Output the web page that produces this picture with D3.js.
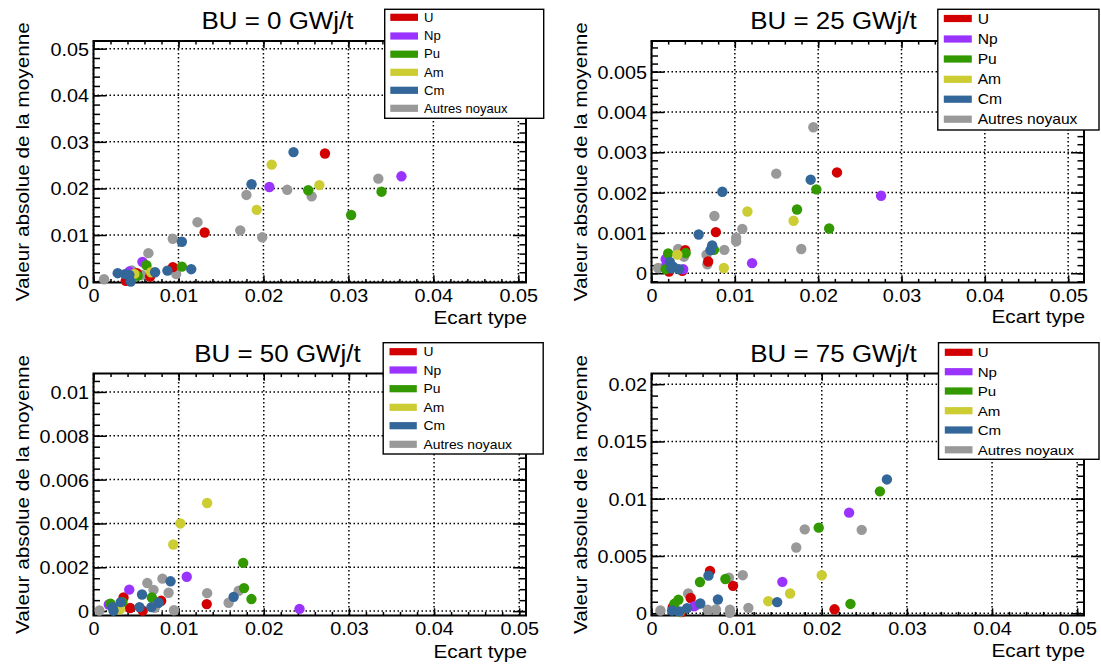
<!DOCTYPE html>
<html><head><meta charset="utf-8">
<script src="https://cdn.jsdelivr.net/npm/d3@7"></script>
<style>
html,body{margin:0;padding:0;background:#fff;}
svg{display:block;font-family:"Liberation Sans",Arial,Helvetica,sans-serif;}
</style></head>
<body>
<svg id="c" width="1101" height="666"></svg>
<script>
// ---------- data ----------
const categories = ["U","Np","Pu","Am","Cm","Autres noyaux"];
const catColors  = ["#d20000","#9b33ff","#339900","#cccc33","#336699","#999999"];
const titles = ["BU = 0 GWj/t","BU = 25 GWj/t","BU = 50 GWj/t","BU = 75 GWj/t"];
const xLabel = "Ecart type";
const yLabel = "Valeur absolue de la moyenne";

const xTickValues = [0,0.01,0.02,0.03,0.04,0.05];
const xTickLabels = ["0","0.01","0.02","0.03","0.04","0.05"];
const yTickValues0  = [0,0.01,0.02,0.03,0.04,0.05];
const yTickLabels0  = ["0","0.01","0.02","0.03","0.04","0.05"];
const yTickValues25 = [0,0.001,0.002,0.003,0.004,0.005];
const yTickLabels25 = ["0","0.001","0.002","0.003","0.004","0.005"];
const yTickValues50 = [0,0.002,0.004,0.006,0.008,0.01];
const yTickLabels50 = ["0","0.002","0.004","0.006","0.008","0.01"];
const yTickValues75 = [0,0.005,0.01,0.015,0.02];
const yTickLabels75 = ["0","0.005","0.01","0.015","0.02"];

// BU = 0
const bu0_U  = [[0.02724,0.0275],[0.01308,0.01053],[0.00934,0.0031],[0.00666,0.00107],[0.0051,0.0018],[0.0038,0.00015]];
const bu0_Np = [[0.03624,0.0226],[0.0207,0.0203],[0.00576,0.00423],[0.00422,0.00215]];
const bu0_Pu = [[0.02527,0.0196],[0.0339,0.0193],[0.03032,0.0143],[0.00623,0.0035],[0.0104,0.0032],[0.00521,0.00122]];
const bu0_Am = [[0.02097,0.0251],[0.02658,0.0207],[0.01921,0.0154],[0.00678,0.002],[0.00481,0.00165]];
const bu0_Cm = [[0.02354,0.0278],[0.0186,0.0209],[0.0104,0.00855],[0.0115,0.00266],[0.0087,0.00236],[0.00725,0.002],[0.00285,0.0018],[0.00371,0.00159],[0.00422,0.00144],[0.00438,0.0]];
const bu0_Au = [[0.03352,0.0221],[0.0228,0.0197],[0.02568,0.0183],[0.018,0.0186],[0.01224,0.01275],[0.01727,0.011],[0.01986,0.0095],[0.00933,0.0092],[0.00646,0.0061],[0.00973,0.0016],[0.00568,0.00144],[0.0045,0.0024],[0.00124,0.0005]];
// BU = 25
const bu25_U  = [[0.02226,0.0025],[0.00772,0.00102],[0.0068,0.00029],[0.00405,0.00057],[0.0021,0.00004],[0.0037,0.00006]];
const bu25_Np = [[0.02755,0.00192],[0.01207,0.00025],[0.0017,0.00035],[0.0018,0.00022],[0.0038,0.0001]];
const bu25_Pu = [[0.01978,0.00208],[0.01746,0.00158],[0.02132,0.00111],[0.0075,0.00058],[0.002,0.00049],[0.0041,0.0005],[0.0017,0.0001]];
const bu25_Am = [[0.01151,0.00153],[0.01705,0.0013],[0.00868,0.00013],[0.0031,0.00046]];
const bu25_Cm = [[0.0191,0.00232],[0.0085,0.00202],[0.00566,0.00096],[0.00728,0.00069],[0.00708,0.00057],[0.0022,0.00028],[0.0026,0.00016],[0.0024,0.00012],[0.0033,0.0001]];
const bu25_Au = [[0.01942,0.00362],[0.01497,0.00247],[0.00755,0.00142],[0.0109,0.0011],[0.01016,0.00088],[0.01016,0.00079],[0.01797,0.0006],[0.00874,0.00058],[0.0066,0.00046],[0.0067,0.00022],[0.0008,0.00013],[0.0032,0.0006],[0.0039,0.00041]];
// BU = 50
const bu50_U  = [[0.0133,0.00032],[0.00353,0.00062],[0.00795,0.00047],[0.0043,0.00014],[0.00578,0.00002]];
const bu50_Np = [[0.01095,0.00157],[0.0042,0.00098],[0.0242,0.0001],[0.0018,0.0003]];
const bu50_Pu = [[0.01758,0.0022],[0.01768,0.00105],[0.01855,0.00055],[0.00685,0.00062],[0.002,0.00034],[0.0034,0.00041]];
const bu50_Am = [[0.01335,0.00493],[0.0102,0.004],[0.00937,0.00304],[0.0031,0.00008]];
const bu50_Cm = [[0.00905,0.00136],[0.0057,0.00076],[0.01646,0.00065],[0.00765,0.00038],[0.0068,0.00018],[0.0054,0.00018],[0.00224,0.00018],[0.00235,0.00002],[0.0032,0.00041]];
const bu50_Au = [[0.0081,0.00148],[0.00632,0.00128],[0.00705,0.00097],[0.00882,0.00084],[0.01335,0.00082],[0.01705,0.00093],[0.01587,0.00038],[0.0072,0.00015],[0.00945,0.00004],[0.0007,0.00003]];
// BU = 75
const bu75_U  = [[0.00687,0.00369],[0.00958,0.00239],[0.0046,0.00133],[0.0215,0.00034],[0.0025,0.00053],[0.0035,0.0001]];
const bu75_Np = [[0.02321,0.00878],[0.01537,0.00274],[0.005,0.0006]];
const bu75_Pu = [[0.02683,0.01064],[0.01964,0.00747],[0.00868,0.00299],[0.00569,0.00272],[0.02337,0.00081],[0.00316,0.00117],[0.00269,0.00082]];
const bu75_Am = [[0.02,0.00331],[0.01628,0.00172],[0.01372,0.00105],[0.0033,0.0001]];
const bu75_Cm = [[0.02765,0.01168],[0.00669,0.00328],[0.0078,0.0012],[0.01476,0.00097],[0.00573,0.00085],[0.00242,0.00024],[0.00328,0.00015],[0.00418,0.00044]];
const bu75_Au = [[0.018,0.00732],[0.02469,0.00728],[0.017,0.00574],[0.01072,0.00332],[0.0091,0.0031],[0.00431,0.00172],[0.01138,0.00047],[0.0066,0.0003],[0.00757,0.00032],[0.00921,0.0003],[0.0092,0.00003],[0.00105,0.00024],[0.00523,0.00068]];

// ---------- layout ----------
const panels = [
  {title:titles[0], L:93.5, R:526, T:41, B:282.5, xmax:0.0509, ymin:-0.0002, ymax:0.05165,
   yv:yTickValues0, yl:yTickLabels0, yMinor:0.002, titleX:277.5, titleY:28.5, xtY:323.5, ytX:28.5,
   series:[bu0_U,bu0_Np,bu0_Pu,bu0_Am,bu0_Cm,bu0_Au],
   leg:{x0:384.7,x1:543.7,y0:9.3,y1:118.3,sw0:390.3,sw1:418,tx:424,rows:[17.3,36,54.2,72.3,90.3,108.3],fs:11.9}},
  {title:titles[1], L:651.5, R:1084, T:41, B:282.5, xmax:0.0519, ymin:-0.00023, ymax:0.00576,
   yv:yTickValues25, yl:yTickLabels25, yMinor:0.0002, titleX:833.5, titleY:28.5, xtY:322.5, ytX:586.5,
   series:[bu25_U,bu25_Np,bu25_Pu,bu25_Am,bu25_Cm,bu25_Au],
   leg:{x0:937.8,x1:1099,y0:9.3,y1:130,sw0:943.8,sw1:971.8,tx:977.7,rows:[18.5,39,59,79.3,99.2,119.2],fs:14.2}},
  {title:titles[2], L:93.5, R:526, T:373.5, B:615.5, xmax:0.0508, ymin:-0.0002, ymax:0.01084,
   yv:yTickValues50, yl:yTickLabels50, yMinor:0.0005, titleX:277.5, titleY:362.3, xtY:657.5, ytX:28.5,
   series:[bu50_U,bu50_Np,bu50_Pu,bu50_Am,bu50_Cm,bu50_Au],
   leg:{x0:383.2,x1:543.2,y0:342.7,y1:454,sw0:389.5,sw1:416.8,tx:423.5,rows:[351.7,370,388.7,407.3,425.7,444.3],fs:12.6}},
  {title:titles[3], L:651.5, R:1084, T:373.5, B:615.5, xmax:0.0508, ymin:-0.0002, ymax:0.02093,
   yv:yTickValues75, yl:yTickLabels75, yMinor:0.001, titleX:833.5, titleY:362.3, xtY:657, ytX:586.5,
   series:[bu75_U,bu75_Np,bu75_Pu,bu75_Am,bu75_Cm,bu75_Au],
   leg:{x0:938.5,x1:1099,y0:342.7,y1:459.3,sw0:944.8,sw1:972.5,tx:977.7,rows:[352.3,371.7,391,410.7,430,449.8],fs:13.7}}
];

const svg = d3.select("#c");
const SX = 1.1; // horizontal stretch of glyphs

function addText(g, x, y, s, size, sx, anchor, rot) {
  return g.append("text")
    .attr("transform", `translate(${x},${y})` + (rot ? ` rotate(${rot})` : "") + ` scale(${sx},1)`)
    .attr("text-anchor", anchor)
    .style("font-size", size + "px")
    .attr("fill", "#000")
    .text(s);
}

function minorTicks(lo, hi, step) {
  const out = [];
  const n0 = Math.ceil(lo / step - 1e-9), n1 = Math.floor(hi / step + 1e-9);
  for (let i = n0; i <= n1; i++) out.push(+(i * step).toFixed(8));
  return out;
}

function styleAxis(g) {
  g.select(".domain").remove();
  g.selectAll(".tick line").attr("stroke", "#000").attr("stroke-width", 1.5);
}

panels.forEach(p => {
  const g = svg.append("g");
  const x = d3.scaleLinear().domain([0, p.xmax]).range([p.L, p.R]);
  const y = d3.scaleLinear().domain([p.ymin, p.ymax]).range([p.B, p.T]);

  // grid
  const grid = g.append("g").attr("stroke", "#000").attr("stroke-width", 1.5).attr("stroke-dasharray", "1.5,2.5");
  xTickValues.forEach(v => grid.append("line").attr("x1", x(v)).attr("x2", x(v)).attr("y1", p.B).attr("y2", p.T));
  p.yv.forEach(v => grid.append("line").attr("y1", y(v)).attr("y2", y(v)).attr("x1", p.L).attr("x2", p.R));

  const xMinorVals = minorTicks(0, p.xmax, 0.002);
  const yMinorVals = minorTicks(p.ymin, p.ymax, p.yMinor);
  const xLen = 7.2, yLen = 13;

  // bottom axis major with labels
  const xb = g.append("g").attr("transform", `translate(0,${p.B})`)
    .call(d3.axisBottom(x).tickValues(xTickValues).tickFormat((d, i) => xTickLabels[i]).tickSizeInner(-xLen).tickSizeOuter(0).tickPadding(6.6));
  styleAxis(xb);
  xb.selectAll(".tick text").attr("font-family", null).attr("font-size", null)
    .style("font-size", "18px").attr("fill", "#000").attr("transform", `scale(${SX},1)`);
  const xbm = g.append("g").attr("transform", `translate(0,${p.B})`)
    .call(d3.axisBottom(x).tickValues(xMinorVals).tickFormat("").tickSizeInner(-xLen / 2).tickSizeOuter(0));
  styleAxis(xbm);
  // top axis
  const xt = g.append("g").attr("transform", `translate(0,${p.T})`)
    .call(d3.axisTop(x).tickValues(xTickValues).tickFormat("").tickSizeInner(-xLen).tickSizeOuter(0));
  styleAxis(xt);
  const xtm = g.append("g").attr("transform", `translate(0,${p.T})`)
    .call(d3.axisTop(x).tickValues(xMinorVals).tickFormat("").tickSizeInner(-xLen / 2).tickSizeOuter(0));
  styleAxis(xtm);

  // left axis
  const yl = g.append("g").attr("transform", `translate(${p.L},0)`)
    .call(d3.axisLeft(y).tickValues(p.yv).tickFormat((d, i) => p.yl[i]).tickSizeInner(-yLen).tickSizeOuter(0).tickPadding(4.6));
  styleAxis(yl);
  yl.selectAll(".tick text").attr("font-family", null).attr("font-size", null)
    .style("font-size", "18px").attr("fill", "#000")
    .attr("x", -4.6 / SX).attr("dy", "0.36em").attr("transform", `scale(${SX},1)`);
  const ylm = g.append("g").attr("transform", `translate(${p.L},0)`)
    .call(d3.axisLeft(y).tickValues(yMinorVals).tickFormat("").tickSizeInner(-yLen / 2).tickSizeOuter(0));
  styleAxis(ylm);
  // right axis
  const yr = g.append("g").attr("transform", `translate(${p.R},0)`)
    .call(d3.axisRight(y).tickValues(p.yv).tickFormat("").tickSizeInner(-yLen).tickSizeOuter(0));
  styleAxis(yr);
  const yrm = g.append("g").attr("transform", `translate(${p.R},0)`)
    .call(d3.axisRight(y).tickValues(yMinorVals).tickFormat("").tickSizeInner(-yLen / 2).tickSizeOuter(0));
  styleAxis(yrm);

  // frame
  g.append("rect").attr("x", p.L).attr("y", p.T).attr("width", p.R - p.L).attr("height", p.B - p.T)
    .attr("fill", "none").attr("stroke", "#000").attr("stroke-width", 2);

  // points: gray first, then U, Np, Pu, Am, Cm
  const order = [5, 0, 1, 2, 3, 4];
  order.forEach(ci => {
    g.append("g").selectAll("circle").data(p.series[ci]).join("circle")
      .attr("cx", d => x(d[0])).attr("cy", d => y(d[1])).attr("r", 5.2)
      .attr("fill", catColors[ci]);
  });

  // titles
  addText(g, p.titleX, p.titleY, p.title, 24.7, 1.05, "middle");
  addText(g, p.R + 1, p.xtY, xLabel, 18.4, 1.13, "end");
  addText(g, p.ytX, (p.T + p.B) / 2, yLabel, 18.4, 1.13, "middle", -90);

  // legend
  const L = p.leg;
  const lg = g.append("g");
  lg.append("rect").attr("x", L.x0).attr("y", L.y0).attr("width", L.x1 - L.x0).attr("height", L.y1 - L.y0)
    .attr("fill", "#fff").attr("stroke", "#000").attr("stroke-width", 1.4);
  categories.forEach((c, i) => {
    lg.append("rect").attr("x", L.sw0).attr("y", L.rows[i] - 3.6).attr("width", L.sw1 - L.sw0).attr("height", 7.2)
      .attr("fill", catColors[i]);
    addText(lg, L.tx, L.rows[i] + 0.36 * L.fs, c, L.fs, 1.1, "start");
  });
});
</script>
</body></html>
